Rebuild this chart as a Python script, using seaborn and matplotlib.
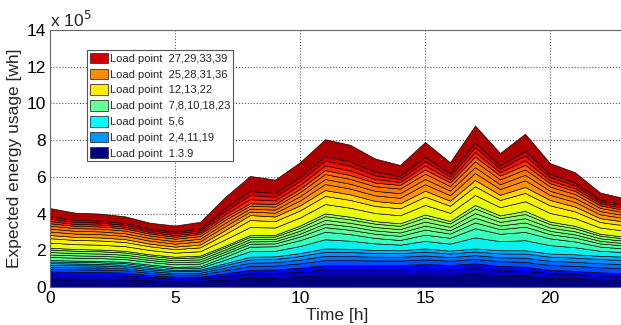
import numpy as np
import matplotlib
matplotlib.use('Agg')
import matplotlib.pyplot as plt
import seaborn as sns
from matplotlib.patches import Patch

hours = np.arange(24)

# expected energy usage per group of load points (x 10^5 wh)
navy = [0.85, 0.83, 0.82, 0.78, 0.65, 0.56, 0.57, 0.75, 0.93, 0.95, 1.05, 1.20,
        1.20, 1.20, 1.20, 1.25, 1.20, 1.29, 1.15, 1.10, 0.93, 0.88, 0.80, 0.75]
blue = [0.45, 0.45, 0.44, 0.43, 0.40, 0.37, 0.38, 0.55, 0.72, 0.72, 0.80, 0.90,
        0.88, 0.82, 0.80, 0.85, 0.78, 0.81, 0.85, 0.90, 0.90, 0.90, 0.90, 0.90]
cyan = [0.17, 0.16, 0.16, 0.16, 0.17, 0.17, 0.18, 0.35, 0.55, 0.55, 0.70, 0.91,
        0.80, 0.65, 0.56, 0.75, 0.70, 1.10, 0.90, 1.00, 0.82, 0.70, 0.50, 0.45]
green = [0.67, 0.63, 0.62, 0.60, 0.56, 0.55, 0.58, 0.60, 0.63, 0.62, 0.80, 1.00,
         0.95, 0.92, 0.91, 1.10, 0.92, 1.27, 1.00, 1.15, 0.91, 0.85, 0.70, 0.64]
yellow = [0.69, 0.66, 0.66, 0.64, 0.58, 0.55, 0.60, 0.85, 1.09, 1.00, 1.10, 1.27,
          1.22, 1.10, 1.09, 1.30, 1.10, 1.36, 1.12, 1.30, 1.18, 1.05, 0.85, 0.82]
orange = [0.64, 0.60, 0.60, 0.58, 0.55, 0.54, 0.58, 0.70, 0.64, 0.68, 0.90, 1.09,
          1.05, 1.00, 1.00, 1.15, 1.00, 1.27, 1.05, 1.20, 0.91, 0.85, 0.70, 0.63]
red = [0.83, 0.72, 0.70, 0.66, 0.59, 0.61, 0.66, 1.10, 1.49, 1.33, 1.45, 1.68,
       1.65, 1.31, 1.09, 1.50, 1.10, 1.70, 1.23, 1.70, 1.10, 1.02, 0.70, 0.64]

# share of each load point inside its group (estimated)
navy_share = [0.55, 0.25, 0.20]
blue_share = [0.30, 0.25, 0.25, 0.20]
cyan_share = [0.55, 0.45]
green_share = [0.25, 0.20, 0.20, 0.20, 0.15]
yellow_share = [0.40, 0.35, 0.25]
orange_share = [0.30, 0.25, 0.25, 0.20]
red_share = [0.15, 0.15, 0.15, 0.55]

labels = ['Load point  1.3.9', 'Load point  2,4,11,19', 'Load point  5,6',
          'Load point  7,8,10,18,23', 'Load point  12,13,22',
          'Load point  25,28,31,36', 'Load point  27,29,33,39']
legend_colors = ['#000087', '#0096ff', '#00ffff', '#66ff99', '#ffee00', '#ff8c00', '#cc0000']

groups = [navy, blue, cyan, green, yellow, orange, red]
shares = [navy_share, blue_share, cyan_share, green_share, yellow_share, orange_share, red_share]
jet_ranges = [(0.0, 0.12), (0.2, 0.3), (0.36, 0.42), (0.46, 0.54),
              (0.63, 0.68), (0.75, 0.80), (0.86, 0.96)]

cmap = matplotlib.colormaps['jet']
layers, colors = [], []
for g, sh, (lo, hi) in zip(groups, shares, jet_ranges):
    for k, s in enumerate(sh):
        layers.append(np.array(g) * s)
        colors.append(cmap(np.linspace(lo, hi, len(sh))[k]))

sns.set_style('white')
plt.rcParams['font.family'] = ['Liberation Sans', 'DejaVu Sans']

fig = plt.figure(figsize=(6.21, 3.25), dpi=100)
ax = fig.add_axes([50 / 621, 38 / 325, 575 / 621, 257 / 325])
ax.stackplot(hours, *layers, colors=colors, edgecolor='black', linewidth=0.45)

ax.set_xlim(0, 23)
ax.set_ylim(0, 14)
ax.set_xticks([0, 5, 10, 15, 20])
ax.set_yticks(range(0, 15, 2))
ax.tick_params(direction='in', length=3, labelsize=12.5, colors='black', pad=3)
ax.grid(True, linestyle=':', color='#555555', linewidth=0.8)
ax.set_axisbelow(True)
for sp in ax.spines.values():
    sp.set_color('#666666')
    sp.set_linewidth(0.8)

ax.set_xlabel('Time [h]', fontsize=12.5, labelpad=1)
ax.set_ylabel('Expected energy usage [wh]', fontsize=12.5, labelpad=3)
ax.text(0, 1.0, r'x 10$^5$', transform=ax.transAxes, fontsize=12.5, va='bottom', ha='left')

handles = [Patch(facecolor=c, edgecolor='#333333', linewidth=0.6) for c in legend_colors]
leg = ax.legend(handles[::-1], labels[::-1], loc='upper left', bbox_to_anchor=(0.064, 0.922),
                borderaxespad=0, fontsize=8, fancybox=False, framealpha=1,
                handlelength=1.7, handleheight=1.1, handletextpad=0.15,
                labelspacing=0.42, borderpad=0.25)
leg.get_frame().set_edgecolor('#555555')
leg.get_frame().set_linewidth(0.8)

fig.savefig('out.png', dpi=100)
